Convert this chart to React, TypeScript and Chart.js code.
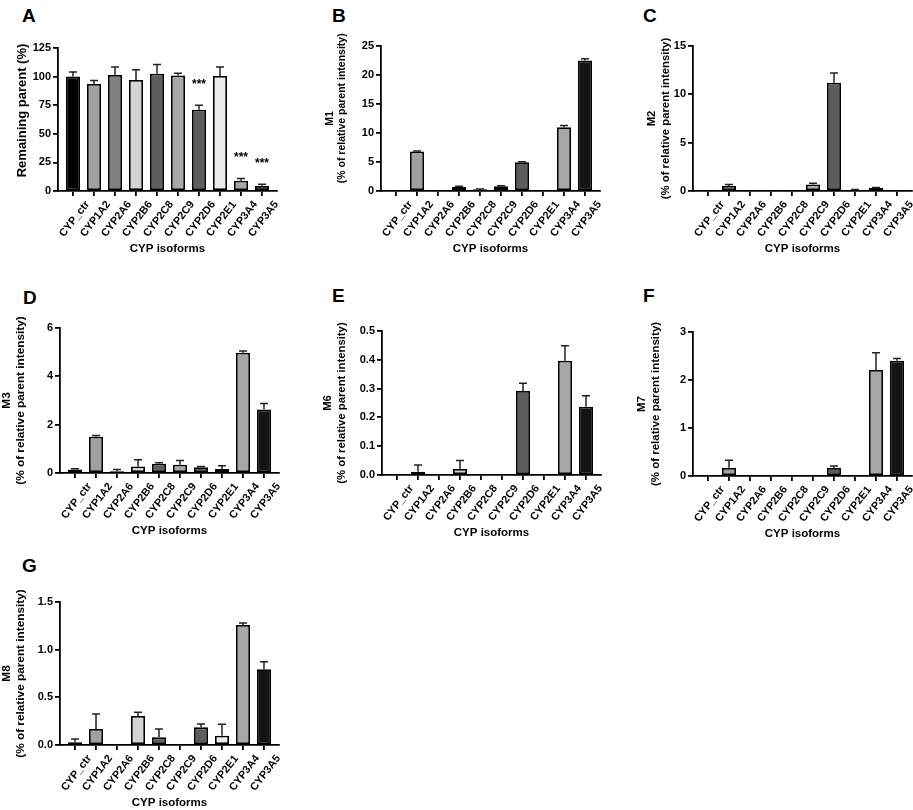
import { useEffect, useRef } from 'react';
import { Chart, registerables } from 'chart.js';

Chart.register(...registerables);
Chart.defaults.font.family = '"Liberation Sans", Arial, sans-serif';
Chart.defaults.color = '#000';

const isoforms = ['CYP_ctr', 'CYP1A2', 'CYP2A6', 'CYP2B6', 'CYP2C8', 'CYP2C9', 'CYP2D6', 'CYP2E1', 'CYP3A4', 'CYP3A5'];
const barColors = ['#000000', '#a0a0a0', '#808080', '#d4d4d4', '#5e5e5e', '#a8a8a8', '#5c5c5c', '#ebebeb', '#a6a6a6', '#141414'];

// A - remaining parent
const remainingParent = [100, 93.5, 101.5, 97, 102.5, 101, 71, 100.5, 9, 4.5];
const remainingParentSd = [4, 3, 7, 9, 8, 2, 4, 8, 2, 1.3];
const remainingParentStars = ['', '', '', '', '', '', '***', '', '***', '***'];
const remainingParentTicks = [0, 25, 50, 75, 100, 125];

// B - M1
const m1 = [0, 6.8, 0.1, 0.7, 0.3, 0.8, 4.95, 0.1, 11, 22.5];
const m1Sd = [0, 0.1, 0, 0.1, 0.05, 0.1, 0.1, 0, 0.3, 0.3];
const m1Ticks = [0, 5, 10, 15, 20, 25];

// C - M2
const m2 = [0, 0.52, 0, 0, 0.05, 0.67, 11.2, 0.08, 0.3, 0.05];
const m2Sd = [0, 0.15, 0, 0, 0, 0.13, 1.0, 0.08, 0.06, 0];
const m2Ticks = [0, 5, 10, 15];

// D - M3
const m3 = [0.15, 1.5, 0.07, 0.27, 0.38, 0.34, 0.24, 0.17, 4.98, 2.63];
const m3Sd = [0.03, 0.05, 0.08, 0.28, 0.04, 0.18, 0.03, 0.13, 0.07, 0.25];
const m3Ticks = [0, 2, 4, 6];

// E - M6
const m6 = [0, 0.011, 0, 0.021, 0, 0, 0.292, 0, 0.397, 0.237];
const m6Sd = [0, 0.024, 0, 0.029, 0, 0, 0.027, 0, 0.052, 0.038];
const m6Ticks = [0, 0.1, 0.2, 0.3, 0.4, 0.5];

// F - M7
const m7 = [0, 0.17, 0, 0.01, 0.01, 0, 0.17, 0, 2.21, 2.4];
const m7Sd = [0, 0.16, 0, 0, 0, 0, 0.04, 0, 0.36, 0.05];
const m7Ticks = [0, 1, 2, 3];

// G - M8
const m8 = [0.028, 0.168, 0, 0.304, 0.08, 0, 0.185, 0.098, 1.26, 0.794];
const m8Sd = [0.035, 0.157, 0, 0.04, 0.088, 0, 0.035, 0.12, 0.02, 0.08];
const m8Ticks = [0, 0.5, 1.0, 1.5];

const relTitle = '(% of relative parent intensity)';
const nb = (n: number) => '\u00a0'.repeat(n); // leading blanks nudge a centred title along the axis

type PanelSpec = {
  letter: string;
  values: number[];
  errors: number[];
  stars?: string[];
  yTicks: number[];
  decimals: number;
  yTitle: string[];
  titleSize: number;
  titleDist: number;
  axisX: number;
  top: number;
  bottom: number;
  letterX: number;
  letterY: number;
};

const panels: PanelSpec[] = [
  { letter: 'A', values: remainingParent, errors: remainingParentSd, stars: remainingParentStars, yTicks: remainingParentTicks, decimals: 0, yTitle: [nb(5) + 'Remaining parent (%)'], titleSize: 13, titleDist: 36, axisX: 58, top: 48, bottom: 191, letterX: 22, letterY: 8 },
  { letter: 'B', values: m1, errors: m1Sd, yTicks: m1Ticks, decimals: 0, yTitle: ['M1', nb(7) + relTitle], titleSize: 10.5, titleDist: 51, axisX: 381, top: 46, bottom: 191, letterX: 332, letterY: 8 },
  { letter: 'C', values: m2, errors: m2Sd, yTicks: m2Ticks, decimals: 0, yTitle: ['M2', relTitle], titleSize: 11.3, titleDist: 41, axisX: 693, top: 46, bottom: 191, letterX: 643, letterY: 8 },
  { letter: 'D', values: m3, errors: m3Sd, yTicks: m3Ticks, decimals: 0, yTitle: ['M3', relTitle], titleSize: 11.8, titleDist: 53, axisX: 60, top: 328, bottom: 473, letterX: 23, letterY: 290 },
  { letter: 'E', values: m6, errors: m6Sd, yTicks: m6Ticks, decimals: 1, yTitle: ['M6', relTitle], titleSize: 11.3, titleDist: 54, axisX: 382, top: 331, bottom: 475, letterX: 332, letterY: 288 },
  { letter: 'F', values: m7, errors: m7Sd, yTicks: m7Ticks, decimals: 0, yTitle: ['M7', relTitle], titleSize: 11.5, titleDist: 51, axisX: 693, top: 332, bottom: 476, letterX: 643, letterY: 288 },
  { letter: 'G', values: m8, errors: m8Sd, yTicks: m8Ticks, decimals: 1, yTitle: ['M8', relTitle], titleSize: 11.8, titleDist: 53, axisX: 60, top: 602, bottom: 745, letterX: 22, letterY: 558 },
];

const LEFT_SPACE = 70;
const PLOT_W = 219;
const PAD_TOP = 14;
const PAD_RIGHT = 14;
const PAD_BOTTOM = 2;
const X_AXIS_H = 65;
const EDGE = 0.215; // extra gap (in bands) between the axis ends and the outer bars
const LABEL_ANGLE = 52;
const LINE_W = 1.8;

// upward-only error bars with caps, plus significance stars
const errorBarPlugin = {
  id: 'errorBars',
  afterDatasetsDraw(chart: any, _args: any, opts: any) {
    const { ctx } = chart;
    const yScale = chart.scales.y;
    const meta = chart.getDatasetMeta(0);
    const values = chart.data.datasets[0].data as number[];
    ctx.save();
    ctx.strokeStyle = '#222';
    ctx.lineWidth = 1.5;
    meta.data.forEach((bar: any, i: number) => {
      const sd = opts.errors?.[i] || 0;
      const topY = yScale.getPixelForValue(values[i] + sd);
      if (sd > 0) {
        ctx.beginPath();
        ctx.moveTo(bar.x, bar.y);
        ctx.lineTo(bar.x, topY);
        ctx.moveTo(bar.x - 4, topY);
        ctx.lineTo(bar.x + 4, topY);
        ctx.stroke();
      }
      const star = opts.stars?.[i];
      if (star) {
        ctx.fillStyle = '#000';
        ctx.font = 'bold 12px "Liberation Sans", Arial, sans-serif';
        ctx.textAlign = 'center';
        ctx.textBaseline = 'alphabetic';
        ctx.fillText(star, bar.x, topY - 24 + 7);
      }
    });
    ctx.restore();
  },
};

// rotated category labels, centred under their tick like GraphPad does
const xLabelPlugin = {
  id: 'xLabels',
  afterDraw(chart: any) {
    const { ctx } = chart;
    const xs = chart.scales.x;
    const axisY = chart.chartArea.bottom;
    ctx.save();
    ctx.fillStyle = '#000';
    ctx.font = 'bold 10.8px "Liberation Sans", Arial, sans-serif';
    ctx.textAlign = 'center';
    ctx.textBaseline = 'middle';
    (chart.data.labels as string[]).forEach((lab, i) => {
      const x = xs.getPixelForValue(i);
      ctx.save();
      ctx.translate(x + 1.5, axisY + 28);
      ctx.rotate((-LABEL_ANGLE * Math.PI) / 180);
      ctx.fillText(lab, 0, 0);
      ctx.restore();
    });
    ctx.restore();
  },
};

function BarPanel({ spec }: { spec: PanelSpec }) {
  const canvasRef = useRef<HTMLCanvasElement>(null);
  const width = LEFT_SPACE + PLOT_W + PAD_RIGHT;
  const height = PAD_TOP + (spec.bottom - spec.top) + X_AXIS_H + PAD_BOTTOM;

  useEffect(() => {
    if (!canvasRef.current) return;
    const lh = spec.titleSize * 1.2;
    const yW = spec.titleDist + lh / 2;
    const chart = new Chart(canvasRef.current, {
      type: 'bar',
      data: {
        labels: isoforms,
        datasets: [
          {
            data: spec.values,
            backgroundColor: barColors,
            borderColor: '#000',
            borderWidth: LINE_W,
            borderSkipped: false,
            barPercentage: 0.67,
            categoryPercentage: 1,
          },
        ],
      },
      options: {
        responsive: true,
        maintainAspectRatio: false,
        animation: false,
        layout: { padding: { left: LEFT_SPACE - yW, top: PAD_TOP, right: PAD_RIGHT, bottom: PAD_BOTTOM } },
        plugins: {
          legend: { display: false },
          tooltip: { enabled: false },
          errorBars: { errors: spec.errors, stars: spec.stars },
        } as any,
        scales: {
          x: {
            offset: true,
            afterBuildTicks: (s: any) => {
              s._startValue -= EDGE;
              s._valueRange += 2 * EDGE;
            },
            afterFit: (s: any) => {
              s.height = X_AXIS_H;
            },
            grid: { drawOnChartArea: false, offset: false, tickLength: 5, color: '#000', lineWidth: LINE_W },
            border: { display: true, color: '#000', width: LINE_W },
            ticks: { display: false, autoSkip: false },
            title: { display: true, text: 'CYP isoforms', color: '#000', padding: 0, font: { size: 11.5, weight: 'bold' } },
          },
          y: {
            min: spec.yTicks[0],
            max: spec.yTicks[spec.yTicks.length - 1],
            afterBuildTicks: (s: any) => {
              s.ticks = spec.yTicks.map((v) => ({ value: v }));
            },
            afterFit: (s: any) => {
              s.width = yW;
            },
            grid: { drawOnChartArea: false, tickLength: 5, color: '#000', lineWidth: LINE_W },
            border: { display: true, color: '#000', width: LINE_W },
            ticks: {
              padding: 2,
              color: '#000',
              font: { size: 11, weight: 'bold' },
              callback: (v: any) => Number(v).toFixed(spec.decimals),
            },
            title: {
              display: true,
              text: spec.yTitle,
              color: '#000',
              padding: 0,
              font: { size: spec.titleSize, weight: 'bold', lineHeight: 1.2 },
            },
          },
        },
      } as any,
      plugins: [errorBarPlugin, xLabelPlugin],
    });
    return () => chart.destroy();
  }, [spec]);

  return (
    <>
      <div
        style={{
          position: 'absolute',
          left: spec.letterX,
          top: spec.letterY - 2.2,
          fontSize: 19,
          lineHeight: '19px',
          fontWeight: 'bold',
          fontFamily: '"Liberation Sans", Arial, sans-serif',
        }}
      >
        {spec.letter}
      </div>
      <div
        style={{
          position: 'absolute',
          left: spec.axisX - LEFT_SPACE,
          top: spec.top - PAD_TOP,
          width,
          height,
        }}
      >
        <canvas ref={canvasRef}></canvas>
      </div>
    </>
  );
}

export default function App() {
  return (
    <div
      style={{
        position: 'absolute',
        left: 0,
        top: 0,
        width: 913,
        height: 810,
        overflow: 'hidden',
        background: '#fff',
      }}
    >
      {panels.map((p) => (
        <BarPanel key={p.letter} spec={p} />
      ))}
    </div>
  );
}
